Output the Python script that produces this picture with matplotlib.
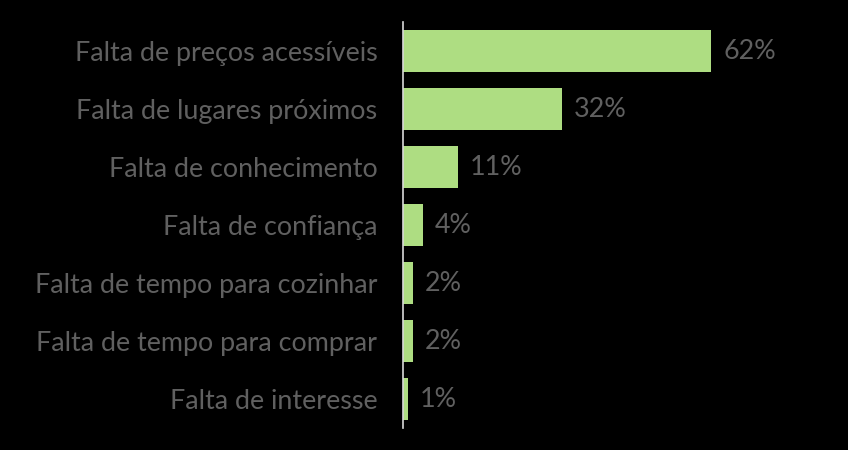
import matplotlib
matplotlib.use("Agg")
import matplotlib.pyplot as plt

categories = ["Falta de preços acessíveis", "Falta de lugares próximos", "Falta de conhecimento",
              "Falta de confiança", "Falta de tempo para cozinhar", "Falta de tempo para comprar",
              "Falta de interesse"]
values = [62, 32, 11, 4, 2, 2, 1]
labels = ["62%", "32%", "11%", "4%", "2%", "2%", "1%"]

W, H = 848, 450
fig = plt.figure(figsize=(W/100, H/100), dpi=100, facecolor="black")
ax = fig.add_axes([403/W, 1 - 428/H, 398/W, 406/H], facecolor="black")

ypos = list(range(len(categories)))
ax.barh(ypos, values, height=0.71, color="#AEDD82")
ax.set_ylim(len(categories) - 0.5, -0.5)
ax.set_xlim(0, 80)
ax.set_yticks(ypos)
ax.set_yticklabels(categories, fontsize=19.4, color="#606060", family="Lato")
ax.tick_params(axis="y", length=0, pad=18.5)
ax.set_xticks([])
for s in ["top", "right", "bottom"]:
    ax.spines[s].set_visible(False)
ax.spines["left"].set_color("#D9D9D9")
ax.spines["left"].set_linewidth(1.2)
for y, v, t in zip(ypos, values, labels):
    ax.text(v + 2.4, y, t, va="center", ha="left", fontsize=19.4, color="#606060", family="Lato")

fig.savefig("out.png", dpi=100, facecolor="black")
